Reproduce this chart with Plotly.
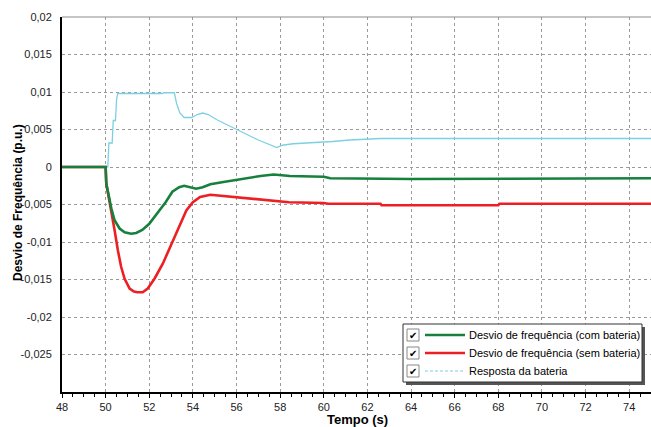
import plotly.graph_objects as go

# ---- data ----
t_com = [48, 50.0, 50.03, 50.1, 50.26, 50.41, 50.64, 50.87, 51.17, 51.4, 51.68, 51.99, 52.37,
         52.75, 53.06, 53.37, 53.6, 53.85, 54.15, 54.45, 54.8, 55.4, 56.0, 57.1, 57.7, 58.45,
         60.0, 60.3, 64.0, 70.3, 75]
v_com = [0, 0, -0.0022, -0.0033, -0.0055, -0.0071, -0.0082, -0.0087, -0.0089, -0.0088, -0.0084,
         -0.0076, -0.0062, -0.0047, -0.0033, -0.0027, -0.0025, -0.0027, -0.0029, -0.0027,
         -0.0023, -0.0020, -0.0017, -0.0012, -0.0010, -0.0012, -0.0013, -0.0015, -0.0016,
         -0.0015, -0.0015]

t_sem = [48, 50.0, 50.03, 50.1, 50.26, 50.41, 50.56, 50.71, 50.87, 51.1, 51.3, 51.45, 51.7,
         51.93, 52.24, 52.62, 53.0, 53.39, 53.7, 54.0, 54.33, 54.8, 55.5, 56.45, 57.8, 58.4,
         60.0, 60.2, 62.6, 62.65, 68.0, 68.05, 75]
v_sem = [0, 0, -0.0022, -0.0033, -0.0058, -0.0084, -0.0111, -0.0133, -0.0149, -0.0162, -0.0166,
         -0.0167, -0.0167, -0.0162, -0.0149, -0.0129, -0.0104, -0.0078, -0.0058, -0.0047,
         -0.0040, -0.0037, -0.0039, -0.0042, -0.0046, -0.0047, -0.0048, -0.0049, -0.0049,
         -0.0051, -0.0051, -0.0049, -0.0049]

t_bat = [48, 50.1, 50.15, 50.3, 50.35, 50.45, 50.5, 50.55, 52.6, 52.65, 53.15, 53.25, 53.4, 53.6,
         53.95, 54.2, 54.45, 54.7, 55.1, 55.5, 56.0, 56.5, 57.0, 57.5, 57.85, 58.1, 58.6, 59.2,
         60.0, 60.4, 61.2, 62.6, 64, 75]
v_bat = [0, 0, 0.0032, 0.0032, 0.0062, 0.0062, 0.0089, 0.0098, 0.0098, 0.0099, 0.0099, 0.0085,
         0.0072, 0.0066, 0.0066, 0.0070, 0.0072, 0.0070, 0.0063, 0.0057, 0.0050, 0.0043, 0.0036,
         0.0030, 0.0026, 0.0029, 0.0031, 0.0032, 0.0033, 0.0034, 0.0036, 0.0038, 0.0038, 0.0038]

y_ticks = [0.02, 0.015, 0.01, 0.005, 0, -0.005, -0.01, -0.015, -0.02, -0.025]
y_labels = ["0,02", "0,015", "0,01", "0,005", "0", "-0,005", "-0,01", "-0,015", "-0,02", "-0,025"]
x_ticks = list(range(48, 76, 2))

names = ["Desvio de frequência (com bateria)", "Desvio de frequência (sem bateria)",
         "Resposta da bateria"]
colors = ["rgb(22,128,60)", "rgb(236,32,36)", "rgb(125,208,226)"]

FONT = "Liberation Sans, Arial, sans-serif"

fig = go.Figure()
fig.add_trace(go.Scatter(x=t_bat, y=v_bat, mode="lines", name=names[2],
                         line=dict(color=colors[2], width=1.3)))
fig.add_trace(go.Scatter(x=t_sem, y=v_sem, mode="lines", name=names[1],
                         line=dict(color=colors[1], width=2.6)))
fig.add_trace(go.Scatter(x=t_com, y=v_com, mode="lines", name=names[0],
                         line=dict(color=colors[0], width=2.6)))

W, H = 651, 427
L, R, T, B = 62, 0, 17, 35
pw, ph = W - L - R, H - T - B


def px(sx):  # screen pixel x -> paper
    return (sx - L) / pw


def py(sy):  # screen pixel y -> paper
    return (H - B - sy) / ph


shapes = []
annotations = []
# top frame line
shapes.append(dict(type="line", xref="paper", yref="paper", x0=0, x1=1, y0=1, y1=1,
                   line=dict(color="#8a8a8a", width=1)))
# legend shadow and box
shapes.append(dict(type="rect", xref="paper", yref="paper", x0=px(406), x1=px(645),
                   y0=py(385), y1=py(327), fillcolor="#555", line=dict(width=0)))
shapes.append(dict(type="rect", xref="paper", yref="paper", x0=px(403), x1=px(642),
                   y0=py(382), y1=py(324), fillcolor="white", line=dict(color="#333", width=1)))
rows = [335, 353, 371]
for i, ry in enumerate(rows):
    shapes.append(dict(type="rect", xref="paper", yref="paper", x0=px(407), x1=px(419),
                       y0=py(ry + 6), y1=py(ry - 6), fillcolor="white",
                       line=dict(color="#888", width=1)))
    annotations.append(dict(x=px(413), y=py(ry), xref="paper", yref="paper", text="✔",
                            showarrow=False, font=dict(size=10, color="black"),
                            xanchor="center", yanchor="middle"))
    shapes.append(dict(type="line", xref="paper", yref="paper", x0=px(425), x1=px(465),
                       y0=py(ry), y1=py(ry),
                       line=dict(color=colors[i], width=2.4 if i < 2 else 1,
                                 dash="solid" if i < 2 else "3px,2px")))
    annotations.append(dict(x=px(467), y=py(ry), xref="paper", yref="paper", text=names[i],
                            showarrow=False, font=dict(size=11, color="black", family=FONT),
                            xanchor="left", yanchor="middle"))

# axis titles
annotations.append(dict(x=px(18), y=py(203), xref="paper", yref="paper",
                        text="<b>Desvio de Frequência (p.u.)</b>", textangle=-90,
                        showarrow=False, font=dict(size=12, color="black", family=FONT),
                        xanchor="center", yanchor="middle"))
annotations.append(dict(x=px(357), y=py(419), xref="paper", yref="paper",
                        text="<b>Tempo (s)</b>", showarrow=False,
                        font=dict(size=13, color="black", family=FONT),
                        xanchor="center", yanchor="middle"))

fig.update_layout(
    width=W, height=H,
    margin=dict(l=L, r=R, t=T, b=B),
    paper_bgcolor="white", plot_bgcolor="white",
    showlegend=False,
    font=dict(family=FONT, size=11, color="#222"),
    shapes=shapes, annotations=annotations,
)
fig.update_xaxes(range=[48, 75], tickvals=x_ticks, showgrid=True, gridcolor="#9a9a9a",
                 griddash="3px,3px", gridwidth=1, showline=True, linecolor="black", linewidth=2,
                 ticks="outside", ticklen=4, tickcolor="black", zeroline=False,
                 minor=dict(dtick=0.5, ticks="outside", ticklen=3, tickcolor="black",
                            showgrid=False),
                 tickfont=dict(size=11, color="#222"))
fig.update_yaxes(range=[-0.03, 0.02], tickvals=y_ticks, ticktext=y_labels, showgrid=True,
                 gridcolor="#9a9a9a", griddash="3px,3px", gridwidth=1, showline=True,
                 linecolor="black", linewidth=2, ticks="", zeroline=False,
                 ticklabelstandoff=6, tickfont=dict(size=11, color="#222"))

fig.write_html("out.html", config={"displayModeBar": False},
               post_script="document.body.style.margin='0';document.body.style.overflow='hidden';")
